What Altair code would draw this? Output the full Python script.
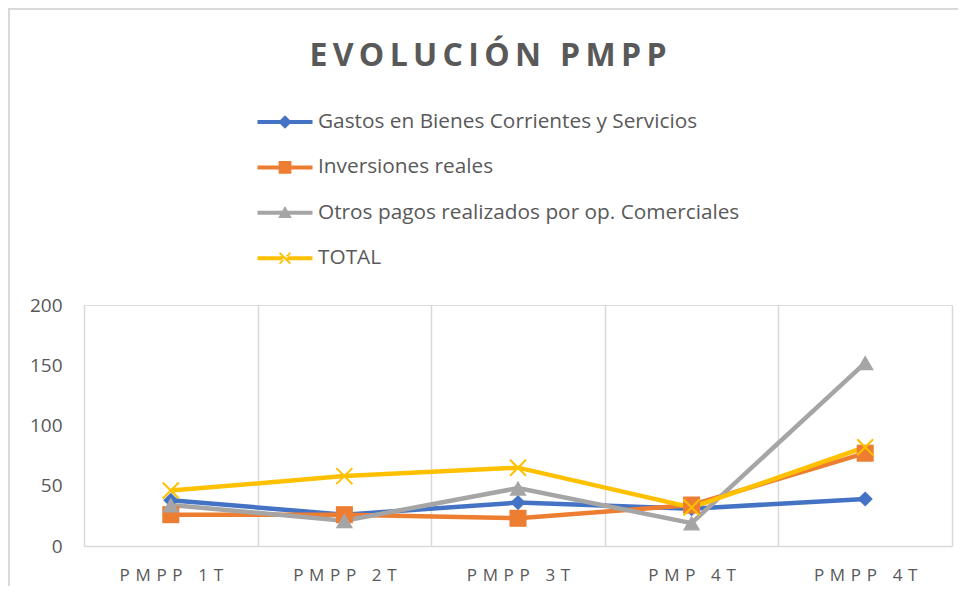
import altair as alt
import pandas as pd

categories = ["PMPP 1T", "PMPP 2T", "PMPP 3T", "PMP 4T", "PMPP 4T"]
series_names = [
    "Gastos en Bienes Corrientes y Servicios",
    "Inversiones reales",
    "Otros pagos realizados por op. Comerciales",
    "TOTAL",
]
gastos = [38, 26, 36, 31, 39]
inversiones = [26, 26, 23, 34, 77]
otros = [34, 21, 48, 19, 152]
total = [46, 58, 65, 32, 82]
colors = ["#4472C4", "#ED7D31", "#A5A5A5", "#FFC000"]
title_text = "EVOLUCIÓN PMPP"

rows = []
for k, (name, vals) in enumerate(zip(series_names, [gastos, inversiones, otros, total])):
    for c, v in zip(categories, vals):
        rows.append({"cat": c, "serie": name, "valor": v, "orden": k})
df = pd.DataFrame(rows)

GRAY = "#595959"
FONT = "Open Sans"

# wide letter spacing of the original title, imitated with six-per-em spaces
spaced_title = "\u2006".join(title_text)

line_p = "M-2.5,-0.18H2.5V0.18H-2.5Z"
diamond_p = "M0,-0.62L0.62,0L0,0.62L-0.62,0Z"
square_p = "M-0.58,-0.58H0.58V0.58H-0.58Z"
tri_p = "M0,-0.62L0.62,0.48L-0.62,0.48Z"
x_p = ("M-0.55,-0.43L-0.43,-0.55L0.55,0.43L0.43,0.55Z"
       "M-0.55,0.43L-0.43,0.55L0.55,-0.43L0.43,-0.55Z")
legend_shapes = [line_p + diamond_p, line_p + square_p, line_p + tri_p, line_p + x_p]

x_enc = alt.X(
    "cat:N",
    sort=categories,
    scale=alt.Scale(type="band", paddingInner=0, paddingOuter=0),
    axis=alt.Axis(
        title=None,
        labelAngle=0,
        ticks=False,
        grid=True,
        gridColor="#d9d9d9",
        gridWidth=1.5,
        tickBand="extent",
        domainColor="#d9d9d9",
        domainWidth=1.5,
        labelFont=FONT,
        labelFontSize=17,
        labelColor=GRAY,
        labelPadding=21,
        labelExpr="join(split(datum.label, ''), '\u2004')",
    ),
)
y_enc = alt.Y(
    "valor:Q",
    scale=alt.Scale(domain=[0, 200]),
    axis=alt.Axis(
        title=None,
        values=[0, 50, 100, 150, 200],
        grid=False,
        domain=False,
        ticks=False,
        labelFont=FONT,
        labelFontSize=19,
        labelColor=GRAY,
        labelPadding=22,
    ),
)
color_scale = alt.Scale(domain=series_names, range=colors)

legend = alt.Legend(
    title=None,
    orient="none",
    legendX=190,
    legendY=-194,
    direction="vertical",
    symbolSize=484,
    symbolStrokeWidth=0,
    symbolOpacity=1,
    labelFont=FONT,
    labelFontSize=20.8,
    labelColor=GRAY,
    labelOffset=22,
    labelLimit=700,
    rowPadding=24.4,
    padding=0,
)

# legend carrier: tiny points hidden under the lines
legend_layer = alt.Chart(df).mark_point(filled=True, size=2, opacity=1).encode(
    x=x_enc,
    y=y_enc,
    color=alt.Color("serie:N", scale=color_scale, sort=series_names, legend=legend),
    shape=alt.Shape(
        "serie:N",
        scale=alt.Scale(domain=series_names, range=legend_shapes),
        sort=series_names,
        legend=legend,
    ),
)

lines = alt.Chart(df).mark_line(strokeWidth=4.5).encode(
    x=x_enc,
    y=y_enc,
    color=alt.Color("serie:N", scale=color_scale, legend=None),
    detail="serie:N",
)

def marker_layer(idx, shape, size, filled=True, stroke_width=0):
    sub = df[df["serie"] == series_names[idx]]
    if filled:
        mk = alt.Chart(sub).mark_point(filled=True, shape=shape, size=size, opacity=1,
                                        color=colors[idx])
    else:
        mk = alt.Chart(sub).mark_point(filled=False, shape=shape, size=size, opacity=1,
                                        strokeWidth=stroke_width, color=colors[idx])
    return mk.encode(x=x_enc, y=y_enc)

m_blue = marker_layer(0, "diamond", 230)
m_orange = marker_layer(1, "square", 290)
m_gray = marker_layer(2, "triangle-up", 300)
m_total = marker_layer(3, "M-1,-1L1,1M-1,1L1,-1", 256, filled=False, stroke_width=2)

frame_left = alt.Chart(df).mark_rule(color="#d9d9d9", strokeWidth=2).encode(
    x=alt.value(-75), y=alt.value(-297), y2=alt.value(290)
)
frame_top = alt.Chart(df).mark_rule(color="#d9d9d9", strokeWidth=2).encode(
    x=alt.value(-76), x2=alt.value(890), y=alt.value(-296)
)

chart = alt.layer(
    frame_left, frame_top, legend_layer, lines, m_blue, m_orange, m_gray, m_total
).properties(
    width=868,
    height=241,
    autosize=alt.AutoSizeParams(type="none"),
    padding={"left": 76, "top": 297, "right": 6, "bottom": 40},
    title=alt.TitleParams(
        spaced_title,
        font=FONT,
        fontSize=32,
        fontWeight="bold",
        color=GRAY,
        anchor="middle",
        dx=-30,
        offset=-66,
    ),
).configure_view(stroke=None).configure(background="white")

chart.save("out.html", embed_options={"renderer": "svg", "actions": False})
